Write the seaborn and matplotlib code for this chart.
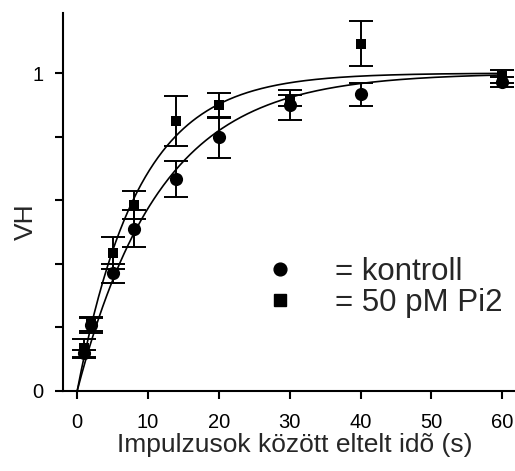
import numpy as np
import pandas as pd
import matplotlib
matplotlib.use("Agg")
import matplotlib.pyplot as plt
from matplotlib.lines import Line2D
import seaborn as sns

# Time between pulses (s)
t_points = [1, 2, 5, 8, 14, 20, 30, 40, 60]

# Recovery (VH), mean and error, control
kontroll = [0.118, 0.207, 0.370, 0.510, 0.667, 0.798, 0.900, 0.934, 0.972]
kontroll_err = [0.012, 0.025, 0.031, 0.058, 0.058, 0.064, 0.047, 0.036, 0.016]

# Recovery (VH), mean and error, 50 pM Pi2
pi2 = [0.134, 0.210, 0.435, 0.585, 0.849, 0.899, 0.915, 1.093, 0.990]
pi2_err = [0.031, 0.020, 0.050, 0.044, 0.079, 0.039, 0.017, 0.072, 0.020]

# Mono-exponential recovery time constants (s): VH = 1 - exp(-t / tau)
tau_kontroll = 11.7
tau_pi2 = 8.6

series_labels = ["= kontroll", "= 50 pM Pi2"]
x_ticks = [0, 10, 20, 30, 40, 50, 60]
y_ticks = [0, 0.2, 0.4, 0.6, 0.8, 1.0]
y_ticklabels = ["0", "", "", "", "", "1"]

sns.set_style("ticks")
plt.rcParams["font.family"] = ["Liberation Sans", "DejaVu Sans"]

W, H = 515, 471
fig = plt.figure(figsize=(W / 100, H / 100), dpi=100)
ax = fig.add_axes([63 / W, 80 / H, 451.6 / W, 378 / H])

df = pd.DataFrame({
    "t": t_points * 2,
    "vh": kontroll + pi2,
    "err": kontroll_err + pi2_err,
    "group": [series_labels[0]] * len(t_points) + [series_labels[1]] * len(t_points),
})

# fitted curves
t_fit = np.linspace(0, 60, 400)
fit = pd.DataFrame({
    "t": np.concatenate([t_fit, t_fit]),
    "vh": np.concatenate([1 - np.exp(-t_fit / tau_kontroll), 1 - np.exp(-t_fit / tau_pi2)]),
    "group": [series_labels[0]] * len(t_fit) + [series_labels[1]] * len(t_fit),
})
sns.lineplot(data=fit, x="t", y="vh", units="group", estimator=None,
             color="black", linewidth=1.2, ax=ax, legend=False)

# error bars
for g in series_labels:
    sub = df[df["group"] == g]
    ax.errorbar(sub["t"], sub["vh"], yerr=sub["err"], fmt="none", ecolor="black",
                elinewidth=1.4, capsize=8.6, capthick=1.4, clip_on=False, zorder=3)

# markers
sns.scatterplot(data=df[df["group"] == series_labels[0]], x="t", y="vh", marker="o",
                color="black", s=90, edgecolor="black", linewidth=0, ax=ax,
                zorder=4, clip_on=False, legend=False)
sns.scatterplot(data=df[df["group"] == series_labels[1]], x="t", y="vh", marker="s",
                color="black", s=62, edgecolor="black", linewidth=0, ax=ax,
                zorder=4, clip_on=False, legend=False)

ax.set_xlim(-2, 61.75)
ax.set_ylim(0, 1.189)
ax.set_xticks(x_ticks)
ax.set_xticklabels([str(v) for v in x_ticks])
ax.set_yticks(y_ticks)
ax.set_yticklabels(y_ticklabels)

for side in ["top", "right"]:
    ax.spines[side].set_visible(False)
for side in ["left", "bottom"]:
    ax.spines[side].set_linewidth(1.5)
    ax.spines[side].set_color("black")

ax.tick_params(axis="x", direction="out", length=5.4, width=1.5, pad=10.5,
               labelsize=14.5, colors="black")
ax.tick_params(axis="y", direction="out", length=5.8, width=1.5, pad=8.5,
               labelsize=14.5, colors="black")

ax.set_xlabel("Impulzusok között eltelt idõ (s)", fontsize=19)
ax.set_ylabel("VH", fontsize=19)
ax.xaxis.set_label_coords(0.514, -0.111)
ax.yaxis.set_label_coords(-0.056, 0.448)

handles = [
    Line2D([], [], marker="o", color="black", linestyle="none", markersize=9.2),
    Line2D([], [], marker="s", color="black", linestyle="none", markersize=8),
]
ax.legend(handles, series_labels, loc="upper left",
          bbox_to_anchor=((267.5 - 63) / 451.6, (391 - 257) / 378),
          frameon=False, fontsize=22.5, borderpad=0, borderaxespad=0,
          handlelength=0.8, handletextpad=1.36, labelspacing=0.02)

fig.savefig("out.png", dpi=100)
